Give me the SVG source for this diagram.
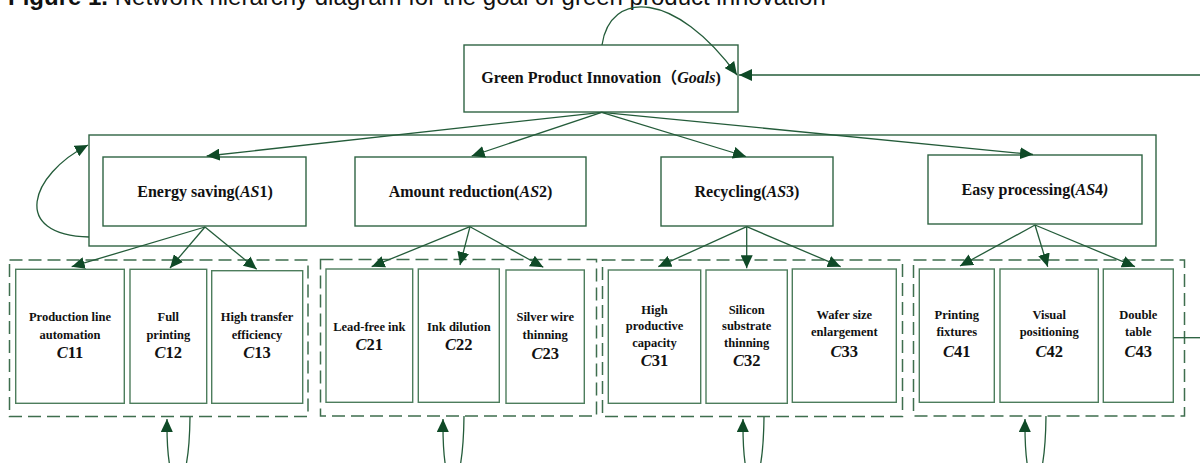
<svg xmlns="http://www.w3.org/2000/svg" width="1200" height="463" viewBox="0 0 1200 463">
<style>
.title{font-family:"Liberation Sans",Arial,sans-serif;font-size:24px;fill:#111}
.t{font-family:"Liberation Serif","Noto Sans CJK SC",serif;font-weight:bold;fill:#111;text-anchor:middle}
.big{font-size:16px}
.sm{font-size:12.5px}
.lab{font-size:16.5px}
.i{font-style:italic}
.box{fill:#fff;stroke:#2f6443;stroke-width:1.4}
.cbox{fill:#fff;stroke:#4d7d5c;stroke-width:1.4}
.outer{fill:none;stroke:#2f6443;stroke-width:1.4}
.dash{fill:none;stroke:#3e6e4e;stroke-width:1.5;stroke-dasharray:13 6}
.ln{fill:none;stroke:#245c3a;stroke-width:1.3}
.arr{marker-end:url(#ah)}
</style>
<defs>
<marker id="ah" markerUnits="userSpaceOnUse" markerWidth="14" markerHeight="12" viewBox="0 0 14 12" refX="13" refY="6" orient="auto">
<path d="M0,0 L13,6 L0,12 Z" fill="#0f4a27"/>
</marker>
</defs>
<text class="title" x="8" y="5"><tspan font-weight="bold">Figure 1.</tspan> Network hierarchy diagram for the goal of green product innovation</text>

<g id="as-container"><rect class="outer" x="89" y="135" width="1067" height="111"/></g>

<g id="goal">
<rect class="box" x="464" y="45" width="274" height="67"/>
<text class="t big" x="601" y="83">Green Product Innovation（<tspan class="i">Goals</tspan>)</text>
</g>

<g id="AS1"><rect class="box" x="103" y="157" width="203" height="69"/>
<text class="t big" x="205" y="197">Energy saving(<tspan class="i">AS</tspan>1)</text></g>
<g id="AS2"><rect class="box" x="355" y="157" width="231" height="69"/>
<text class="t big" x="470.5" y="197">Amount reduction(<tspan class="i">AS</tspan>2)</text></g>
<g id="AS3"><rect class="box" x="661" y="157" width="172" height="69"/>
<text class="t big" x="747" y="197">Recycling(<tspan class="i">AS</tspan>3)</text></g>
<g id="AS4"><rect class="box" x="928" y="155" width="214" height="69"/>
<text class="t big" x="1035" y="195">Easy processing(<tspan class="i">AS</tspan>4<tspan class="i">)</tspan></text></g>

<g id="group1"><rect class="dash" x="9.5" y="260" width="298.5" height="156.5"/></g>
<g id="group2"><rect class="dash" x="320.5" y="259.5" width="276" height="156.5"/></g>
<g id="group3"><rect class="dash" x="602.5" y="260" width="300" height="156.5"/></g>
<g id="group4"><rect class="dash" x="913.5" y="260" width="271" height="156"/></g>

<g id="C11"><rect class="cbox" x="15.7" y="269.3" width="108.6" height="134"/>
<text class="t sm" x="70" y="321">Production line</text><text class="t sm" x="70" y="338.5">automation</text>
<text class="t lab" x="70" y="357.5"><tspan class="i">C</tspan>11</text></g>
<g id="C12"><rect class="cbox" x="130" y="269.3" width="76.7" height="134"/>
<text class="t sm" x="168.3" y="321">Full</text><text class="t sm" x="168.3" y="338.5">printing</text>
<text class="t lab" x="168.3" y="357.5"><tspan class="i">C</tspan>12</text></g>
<g id="C13"><rect class="cbox" x="211.7" y="270.7" width="91" height="132.6"/>
<text class="t sm" x="257" y="321">High transfer</text><text class="t sm" x="257" y="338.5">efficiency</text>
<text class="t lab" x="257" y="358">
<tspan class="i">C</tspan>13</text></g>

<g id="C21"><rect class="cbox" x="326" y="269" width="86.7" height="133.3"/>
<text class="t sm" x="369.3" y="331">Lead-free ink</text>
<text class="t lab" x="369.3" y="349.5"><tspan class="i">C</tspan>21</text></g>
<g id="C22"><rect class="cbox" x="418.3" y="269" width="81" height="133.3"/>
<text class="t sm" x="458.8" y="331">Ink dilution</text>
<text class="t lab" x="458.8" y="349.5"><tspan class="i">C</tspan>22</text></g>
<g id="C23"><rect class="cbox" x="506" y="270" width="78.3" height="133.3"/>
<text class="t sm" x="545.2" y="321">Silver wire</text><text class="t sm" x="545.2" y="338.5">thinning</text>
<text class="t lab" x="545.2" y="358.5"><tspan class="i">C</tspan>23</text></g>

<g id="C31"><rect class="cbox" x="608.3" y="270" width="92.4" height="133.3"/>
<text class="t sm" x="654.5" y="313.5">High</text><text class="t sm" x="654.5" y="329.5">productive</text><text class="t sm" x="654.5" y="346.5">capacity</text>
<text class="t lab" x="654.5" y="365.5"><tspan class="i">C</tspan>31</text></g>
<g id="C32"><rect class="cbox" x="706" y="270" width="81.3" height="133.3"/>
<text class="t sm" x="746.7" y="313.5">Silicon</text><text class="t sm" x="746.7" y="329.5">substrate</text><text class="t sm" x="746.7" y="346.5">thinning</text>
<text class="t lab" x="746.7" y="365.5"><tspan class="i">C</tspan>32</text></g>
<g id="C33"><rect class="cbox" x="792.3" y="269" width="104" height="133.3"/>
<text class="t sm" x="844.3" y="318.5">Wafer size</text><text class="t sm" x="844.3" y="336">enlargement</text>
<text class="t lab" x="844.3" y="356.5"><tspan class="i">C</tspan>33</text></g>

<g id="C41"><rect class="cbox" x="919.3" y="269" width="75" height="133.3"/>
<text class="t sm" x="956.8" y="318.5">Printing</text><text class="t sm" x="956.8" y="336">fixtures</text>
<text class="t lab" x="956.8" y="356.5"><tspan class="i">C</tspan>41</text></g>
<g id="C42"><rect class="cbox" x="1000" y="269" width="98.3" height="133.3"/>
<text class="t sm" x="1049.2" y="318.5">Visual</text><text class="t sm" x="1049.2" y="336">positioning</text>
<text class="t lab" x="1049.2" y="356.5"><tspan class="i">C</tspan>42</text></g>
<g id="C43"><rect class="cbox" x="1103.3" y="269" width="70" height="133.3"/>
<text class="t sm" x="1138.3" y="318.5">Double</text><text class="t sm" x="1138.3" y="336">table</text>
<text class="t lab" x="1138.3" y="356.5"><tspan class="i">C</tspan>43</text></g>

<g id="connectors">
<path class="ln arr" d="M602,45 C610,-10 675,-10 737,75"/>
<path class="ln arr" d="M1200,75 L739,75"/>
<path class="ln" d="M1173.3,337.7 L1200,337.7"/>
<path class="ln arr" d="M89,237 C10,235 30,175 88,145"/>
<path class="ln arr" d="M601.7,112.3 L206.7,156"/>
<path class="ln arr" d="M601.7,112.3 L471.7,156"/>
<path class="ln arr" d="M601.7,112.3 L746,156.5"/>
<path class="ln arr" d="M601.7,112.3 L1033,154.5"/>
<path class="ln arr" d="M205,227 L71.7,266.7"/>
<path class="ln arr" d="M205,227 L170,268"/>
<path class="ln arr" d="M205,227 L256.7,269.3"/>
<path class="ln arr" d="M470,226.7 L371.7,266.7"/>
<path class="ln arr" d="M470,226.7 L460,265"/>
<path class="ln arr" d="M470,226.7 L543.3,267.3"/>
<path class="ln arr" d="M746.7,226.7 L658.3,266.7"/>
<path class="ln arr" d="M746.7,226.7 L746.7,268.3"/>
<path class="ln arr" d="M746.7,226.7 L840.7,266.7"/>
<path class="ln arr" d="M1035,225 L960,266"/>
<path class="ln arr" d="M1035,225 L1047.7,266.7"/>
<path class="ln arr" d="M1035,225 L1135,266.7"/>
<path class="ln arr" d="M190,417 C189,505 166,505 167,419"/>
<path class="ln arr" d="M464,416 C463,505 442,505 443,419"/>
<path class="ln arr" d="M764,417 C763,505 742,505 743,419"/>
<path class="ln arr" d="M1046,416 C1045,505 1024,505 1025,419"/>
</g>
</svg>
